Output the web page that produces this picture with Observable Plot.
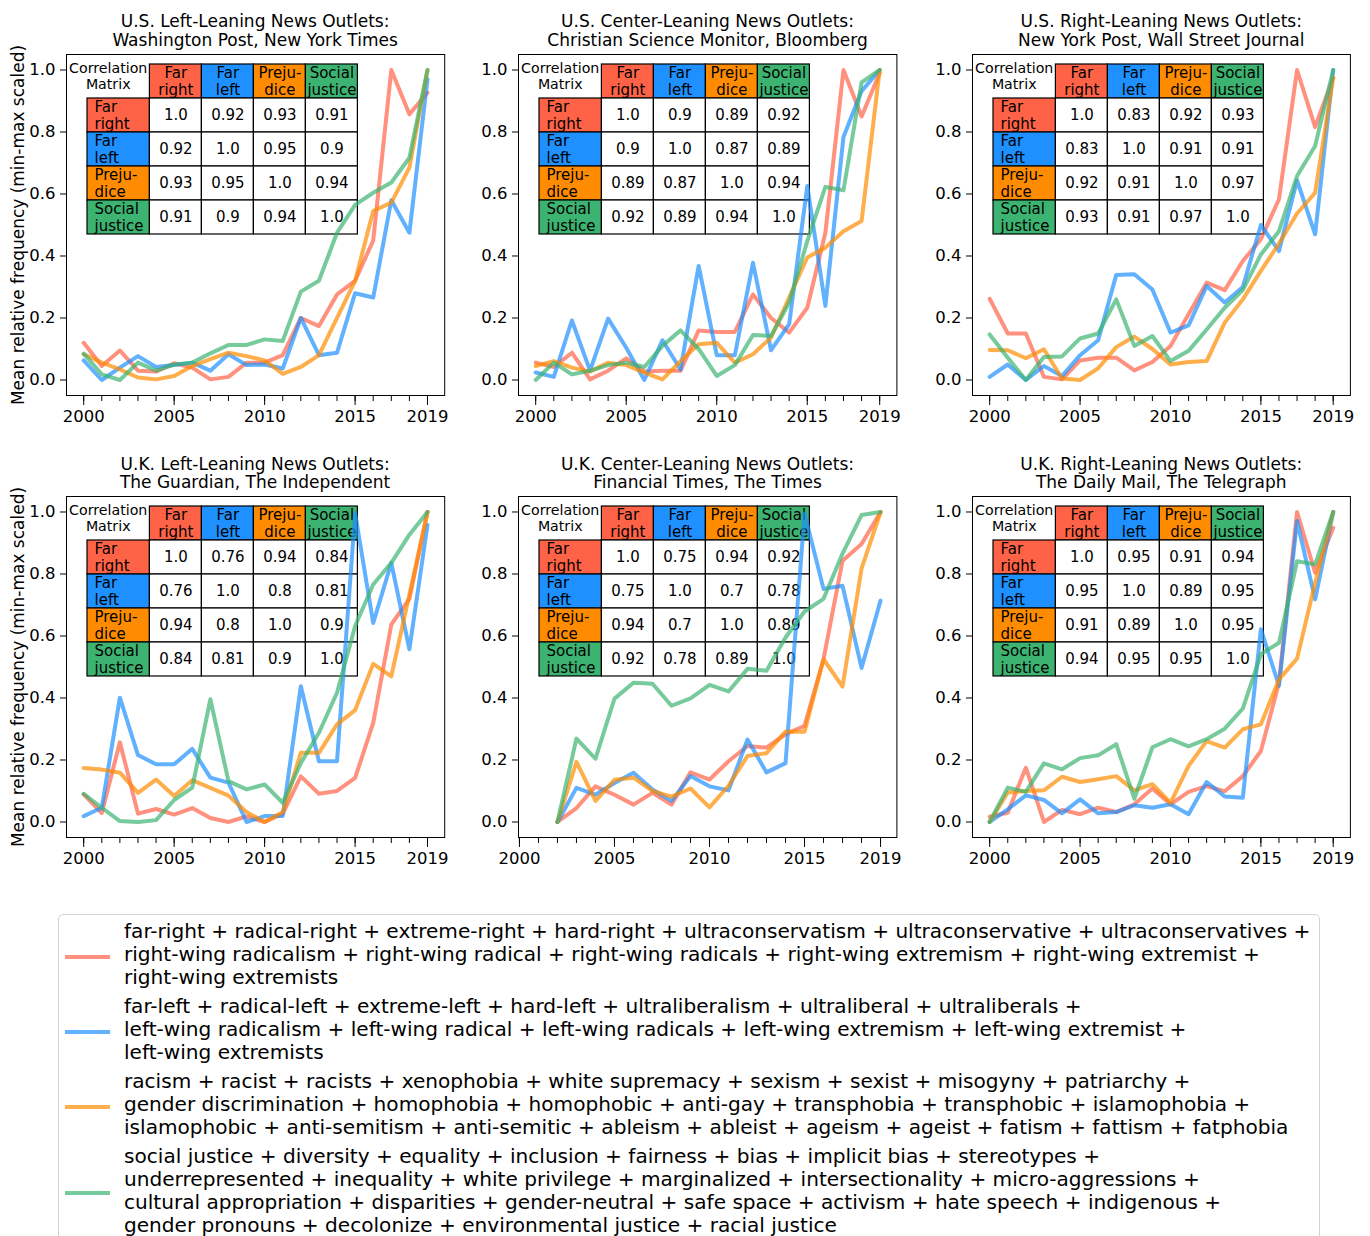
<!DOCTYPE html>
<html>
<head>
<meta charset="utf-8">
<script src="https://cdn.jsdelivr.net/npm/d3@7"></script>
<script src="https://cdn.jsdelivr.net/npm/@observablehq/plot@0.6"></script>
<style>
  html, body { margin: 0; padding: 0; background: #ffffff; }
  #root { position: relative; width: 1370px; height: 1236px; overflow: hidden; font-family: "DejaVu Sans", sans-serif; color: #000; background: #fff; }
  .title { position: absolute; text-align: center; font-size: 17px; line-height: 18.5px; white-space: pre; }
  .legend { position: absolute; left: 58px; top: 914px; width: 1262px; height: 360px; border: 1px solid #d3d3d3; border-radius: 5px; box-sizing: border-box; padding-top: 5px; }
  .entry { display: flex; align-items: center; margin-bottom: 6px; }
  .handle { width: 45px; height: 4px; margin-left: 6px; margin-right: 14px; transform: translateY(2px); }
  .etext { font-size: 20.1px; line-height: 23px; white-space: pre; }
</style>
</head>
<body>
<div id="root"></div>
<script>
// ---------------- data ----------------
const yearsFull = [2000, 2001, 2002, 2003, 2004, 2005, 2006, 2007, 2008, 2009, 2010, 2011, 2012, 2013, 2014, 2015, 2016, 2017, 2018, 2019];
const years2002 = [2002, 2003, 2004, 2005, 2006, 2007, 2008, 2009, 2010, 2011, 2012, 2013, 2014, 2015, 2016, 2017, 2018, 2019];
const majorYears = [2000, 2005, 2010, 2015, 2019];
const yTicks = [0, 0.2, 0.4, 0.6, 0.8, 1.0];
const seriesNames = ["Far right", "Far left", "Prejudice", "Social justice"];
const tableLabels = ["Far\nright", "Far\nleft", "Preju-\ndice", "Social\njustice"];
const seriesColors = ["#ff6347", "#1e90ff", "#ff8c00", "#3cb371"];
const cornerLabel = "Correlation\nMatrix";
const yLabel = "Mean relative frequency (min-max scaled)";
const panelTitles = [
  "U.S. Left-Leaning News Outlets:\nWashington Post, New York Times",
  "U.S. Center-Leaning News Outlets:\nChristian Science Monitor, Bloomberg",
  "U.S. Right-Leaning News Outlets:\nNew York Post, Wall Street Journal",
  "U.K. Left-Leaning News Outlets:\nThe Guardian, The Independent",
  "U.K. Center-Leaning News Outlets:\nFinancial Times, The Times",
  "U.K. Right-Leaning News Outlets:\nThe Daily Mail, The Telegraph"
];

// U.S. left-leaning
const usLeftFarRight  = [0.12, 0.045, 0.095, 0.03, 0.027, 0.054, 0.04, 0.002, 0.01, 0.056, 0.056, 0.08, 0.2, 0.174, 0.276, 0.32, 0.45, 1.0, 0.857, 0.927];
const usLeftFarLeft   = [0.063, 0.0, 0.04, 0.077, 0.042, 0.048, 0.056, 0.03, 0.083, 0.048, 0.05, 0.037, 0.2, 0.08, 0.088, 0.28, 0.266, 0.58, 0.475, 0.97];
const usLeftPrejudice = [0.083, 0.056, 0.034, 0.008, 0.002, 0.013, 0.045, 0.067, 0.088, 0.077, 0.063, 0.02, 0.042, 0.08, 0.2, 0.32, 0.545, 0.572, 0.685, 1.0];
const usLeftSocial    = [0.085, 0.018, 0.0, 0.056, 0.03, 0.05, 0.056, 0.086, 0.113, 0.113, 0.131, 0.126, 0.285, 0.32, 0.475, 0.565, 0.604, 0.637, 0.717, 1.0];
// U.S. center-leaning
const usCenterFarRight  = [0.056, 0.042, 0.088, 0.002, 0.03, 0.07, 0.027, 0.03, 0.03, 0.16, 0.155, 0.155, 0.276, 0.2, 0.153, 0.233, 0.475, 1.0, 0.85, 0.99];
const usCenterFarLeft   = [0.024, 0.01, 0.192, 0.03, 0.198, 0.104, 0.0, 0.128, 0.034, 0.368, 0.08, 0.08, 0.378, 0.096, 0.18, 0.626, 0.239, 0.784, 0.932, 1.0];
const usCenterPrejudice = [0.045, 0.061, 0.04, 0.027, 0.056, 0.048, 0.024, 0.002, 0.061, 0.115, 0.12, 0.056, 0.083, 0.137, 0.266, 0.395, 0.427, 0.48, 0.513, 1.0];
const usCenterSocial    = [0.0, 0.056, 0.018, 0.03, 0.048, 0.056, 0.042, 0.11, 0.16, 0.1, 0.013, 0.048, 0.145, 0.142, 0.25, 0.448, 0.623, 0.612, 0.96, 1.0];
// U.S. right-leaning
const usRightFarRight  = [0.262, 0.15, 0.15, 0.01, 0.002, 0.063, 0.072, 0.072, 0.031, 0.058, 0.11, 0.212, 0.314, 0.29, 0.384, 0.454, 0.583, 1.0, 0.816, 0.975];
const usRightFarLeft   = [0.01, 0.05, 0.0, 0.045, 0.013, 0.08, 0.128, 0.339, 0.341, 0.292, 0.153, 0.176, 0.303, 0.25, 0.3, 0.5, 0.416, 0.644, 0.47, 1.0];
const usRightPrejudice = [0.097, 0.096, 0.07, 0.099, 0.005, 0.0, 0.038, 0.106, 0.14, 0.1, 0.05, 0.058, 0.061, 0.185, 0.26, 0.352, 0.44, 0.537, 0.604, 0.975];
const usRightSocial    = [0.147, 0.072, 0.0, 0.074, 0.076, 0.134, 0.15, 0.26, 0.11, 0.142, 0.061, 0.094, 0.163, 0.233, 0.29, 0.405, 0.48, 0.658, 0.755, 1.0];
// U.K. left-leaning
const ukLeftFarRight  = [0.089, 0.029, 0.257, 0.027, 0.042, 0.024, 0.045, 0.013, 0.0, 0.018, 0.0, 0.027, 0.147, 0.091, 0.1, 0.142, 0.32, 0.637, 0.72, 1.0];
const ukLeftFarLeft   = [0.019, 0.046, 0.401, 0.216, 0.186, 0.186, 0.236, 0.143, 0.127, 0.0, 0.019, 0.019, 0.438, 0.196, 0.196, 0.996, 0.642, 0.836, 0.557, 0.958];
const ukLeftPrejudice = [0.174, 0.169, 0.159, 0.094, 0.137, 0.084, 0.135, 0.11, 0.085, 0.032, 0.0, 0.032, 0.223, 0.223, 0.315, 0.361, 0.51, 0.47, 0.734, 1.0];
const ukLeftSocial    = [0.091, 0.046, 0.003, 0.0, 0.006, 0.071, 0.111, 0.396, 0.132, 0.105, 0.121, 0.062, 0.19, 0.288, 0.417, 0.632, 0.766, 0.836, 0.927, 1.0];
// U.K. center-leaning (from 2002)
const ukCenterFarRight  = [0.0, 0.045, 0.115, 0.088, 0.056, 0.094, 0.056, 0.16, 0.137, 0.196, 0.245, 0.24, 0.283, 0.31, 0.525, 0.843, 0.897, 1.0];
const ukCenterFarLeft   = [0.0, 0.11, 0.088, 0.126, 0.159, 0.105, 0.068, 0.148, 0.115, 0.102, 0.266, 0.16, 0.19, 0.995, 0.752, 0.762, 0.497, 0.714];
const ukCenterPrejudice = [0.0, 0.194, 0.068, 0.136, 0.143, 0.1, 0.082, 0.108, 0.047, 0.117, 0.213, 0.222, 0.292, 0.291, 0.525, 0.437, 0.817, 1.0];
const ukCenterSocial    = [0.0, 0.269, 0.204, 0.398, 0.449, 0.446, 0.375, 0.399, 0.442, 0.421, 0.494, 0.488, 0.595, 0.679, 0.72, 0.866, 0.99, 1.0];
// U.K. right-leaning
const ukRightFarRight  = [0.017, 0.03, 0.175, 0.0, 0.039, 0.025, 0.046, 0.032, 0.057, 0.108, 0.057, 0.097, 0.116, 0.099, 0.148, 0.229, 0.449, 1.0, 0.804, 0.949];
const ukRightFarLeft   = [0.0, 0.041, 0.086, 0.071, 0.028, 0.073, 0.028, 0.032, 0.054, 0.046, 0.057, 0.025, 0.129, 0.082, 0.078, 0.622, 0.439, 0.971, 0.718, 1.0];
const ukRightPrejudice = [0.0, 0.095, 0.1, 0.102, 0.146, 0.129, 0.138, 0.148, 0.102, 0.122, 0.062, 0.181, 0.261, 0.24, 0.299, 0.315, 0.46, 0.527, 0.772, 1.0];
const ukRightSocial    = [0.0, 0.111, 0.097, 0.189, 0.17, 0.206, 0.215, 0.251, 0.075, 0.241, 0.267, 0.244, 0.267, 0.301, 0.366, 0.541, 0.578, 0.841, 0.831, 1.0];

// correlation matrices
const corrUsLeft   = [[1.0, 0.92, 0.93, 0.91], [0.92, 1.0, 0.95, 0.9], [0.93, 0.95, 1.0, 0.94], [0.91, 0.9, 0.94, 1.0]];
const corrUsCenter = [[1.0, 0.9, 0.89, 0.92], [0.9, 1.0, 0.87, 0.89], [0.89, 0.87, 1.0, 0.94], [0.92, 0.89, 0.94, 1.0]];
const corrUsRight  = [[1.0, 0.83, 0.92, 0.93], [0.83, 1.0, 0.91, 0.91], [0.92, 0.91, 1.0, 0.97], [0.93, 0.91, 0.97, 1.0]];
const corrUkLeft   = [[1.0, 0.76, 0.94, 0.84], [0.76, 1.0, 0.8, 0.81], [0.94, 0.8, 1.0, 0.9], [0.84, 0.81, 0.9, 1.0]];
const corrUkCenter = [[1.0, 0.75, 0.94, 0.92], [0.75, 1.0, 0.7, 0.78], [0.94, 0.7, 1.0, 0.89], [0.92, 0.78, 0.89, 1.0]];
const corrUkRight  = [[1.0, 0.95, 0.91, 0.94], [0.95, 1.0, 0.89, 0.95], [0.91, 0.89, 1.0, 0.95], [0.94, 0.95, 0.95, 1.0]];

const legendTexts = [
  "far-right + radical-right + extreme-right + hard-right + ultraconservatism + ultraconservative + ultraconservatives +\nright-wing radicalism + right-wing radical + right-wing radicals + right-wing extremism + right-wing extremist +\nright-wing extremists",
  "far-left + radical-left + extreme-left + hard-left + ultraliberalism + ultraliberal + ultraliberals +\nleft-wing radicalism + left-wing radical + left-wing radicals + left-wing extremism + left-wing extremist +\nleft-wing extremists",
  "racism + racist + racists + xenophobia + white supremacy + sexism + sexist + misogyny + patriarchy +\ngender discrimination + homophobia + homophobic + anti-gay + transphobia + transphobic + islamophobia +\nislamophobic + anti-semitism + anti-semitic + ableism + ableist + ageism + ageist + fatism + fattism + fatphobia",
  "social justice + diversity + equality + inclusion + fairness + bias + implicit bias + stereotypes +\nunderrepresented + inequality + white privilege + marginalized + intersectionality + micro-aggressions +\ncultural appropriation + disparities + gender-neutral + safe space + activism + hate speech + indigenous +\ngender pronouns + decolonize + environmental justice + racial justice"
];

// ---------------- panels ----------------
const panels = [
  {years: yearsFull, series: [usLeftFarRight, usLeftFarLeft, usLeftPrejudice, usLeftSocial], corr: corrUsLeft, xDomain: [1999.05, 2019.95]},
  {years: yearsFull, series: [usCenterFarRight, usCenterFarLeft, usCenterPrejudice, usCenterSocial], corr: corrUsCenter, xDomain: [1999.05, 2019.95]},
  {years: yearsFull, series: [usRightFarRight, usRightFarLeft, usRightPrejudice, usRightSocial], corr: corrUsRight, xDomain: [1999.05, 2019.95]},
  {years: yearsFull, series: [ukLeftFarRight, ukLeftFarLeft, ukLeftPrejudice, ukLeftSocial], corr: corrUkLeft, xDomain: [1999.05, 2019.95]},
  {years: years2002, series: [ukCenterFarRight, ukCenterFarLeft, ukCenterPrejudice, ukCenterSocial], corr: corrUkCenter, xDomain: [1999.95, 2019.86]},
  {years: yearsFull, series: [ukRightFarRight, ukRightFarLeft, ukRightPrejudice, ukRightSocial], corr: corrUkRight, xDomain: [1999.05, 2019.95]}
];

// layout (px)
const colLeft = [66, 518.3, 972.3];
const colRight = [444.2, 896.7, 1350.2];
const rowTop = [53.5, 495.8];
const frameH = 341;
const FONT = "DejaVu Sans";

const root = document.getElementById("root");

function fmt(v) { return Number.isInteger(v) ? v.toFixed(1) : String(v); }

function linePlot(p, fw, fh, showY) {
  const ML = 62, MT = 12, MR = 12, MB = 44;
  const marks = [
    Plot.axisX({ticks: yearsFull, tickSize: 6, fill: "none", label: null}),
    Plot.axisX({ticks: majorYears, tickSize: 10, tickPadding: 5, tickFormat: d => String(d), label: null, fontSize: 16.5}),
    Plot.axisY({ticks: yTicks, tickSize: 6, tickPadding: 5, tickFormat: d => d.toFixed(1), label: null, fontSize: 16.5}),
    Plot.frame({stroke: "black", strokeWidth: 1})
  ];
  p.series.forEach((vals, k) => {
    const data = p.years.map((yr, i) => ({year: yr, value: vals[i]}));
    marks.push(Plot.line(data, {x: "year", y: "value", stroke: seriesColors[k], strokeOpacity: 0.7, strokeWidth: 4}));
  });
  if (showY) {
    marks.push(Plot.text([yLabel], {text: d => d, frameAnchor: "left", textAnchor: "middle", rotate: -90, dx: -47.5, fontSize: 17}));
  }
  const svg = Plot.plot({
    width: ML + fw + MR, height: MT + fh + MB,
    marginLeft: ML, marginTop: MT, marginRight: MR, marginBottom: MB,
    style: {background: "transparent", fontFamily: FONT, fontSize: "16.5px", color: "black", overflow: "visible"},
    x: {domain: p.xDomain, label: null},
    y: {domain: [-0.05, 1.05], label: null},
    marks
  });
  svg.style.position = "absolute";
  svg.style.left = "0px";
  svg.style.top = "0px";
  return {svg, ML, MT};
}

function tablePlot(corr) {
  const CW = 52, RH = 34, LW = 1.2, PADU = 21 / 52, M = 2;
  const w = (PADU + LW + 4) * CW;
  const headers = seriesNames.map((n, j) => ({x1: LW + j, x2: LW + j + 1, y1: 0, y2: 1, fill: seriesColors[j], label: tableLabels[j]}));
  const rowHeads = seriesNames.map((n, i) => ({x1: 0, x2: LW, y1: i + 1, y2: i + 2, fill: seriesColors[i], label: tableLabels[i]}));
  const cells = corr.flatMap((row, i) => row.map((v, j) => ({x1: LW + j, x2: LW + j + 1, y1: i + 1, y2: i + 2, fill: "white", label: fmt(v)})));
  const midX = d => (d.x1 + d.x2) / 2;
  const midY = d => (d.y1 + d.y2) / 2;
  const svg = Plot.plot({
    width: w + M, height: 5 * RH + 2 * M,
    marginLeft: 0, marginRight: M, marginTop: M, marginBottom: M,
    style: {background: "transparent", fontFamily: FONT, color: "black", overflow: "visible"},
    x: {domain: [-PADU, LW + 4], axis: null},
    y: {domain: [5, 0], axis: null},
    color: {type: "identity"},
    marks: [
      Plot.rect([...headers, ...rowHeads, ...cells], {x1: "x1", x2: "x2", y1: "y1", y2: "y2", fill: "fill", stroke: "black", strokeWidth: 1.2}),
      Plot.text(headers, {x: midX, y: midY, text: "label", fontSize: 15, lineHeight: 1.13}),
      Plot.text(rowHeads, {x: "x1", y: midY, dx: 7, textAnchor: "start", text: "label", fontSize: 15, lineHeight: 1.13}),
      Plot.text(cells, {x: midX, y: midY, text: "label", fontSize: 15}),
      Plot.text([cornerLabel], {x: () => (LW - PADU) / 2, y: () => 0.5, dy: -6, text: d => d, fontSize: 14.2, lineHeight: 1.15})
    ]
  });
  svg.style.position = "absolute";
  return {svg, M};
}

panels.forEach((p, idx) => {
  const r = Math.floor(idx / 3), c = idx % 3;
  const fl = colLeft[c], fr = colRight[c], ft = rowTop[r];
  const fw = fr - fl;

  // correlation table (under the lines)
  const t = tablePlot(p.corr);
  t.svg.style.left = fl + "px";
  t.svg.style.top = (ft + 10.3 - t.M) + "px";
  root.appendChild(t.svg);

  // lines + axes
  const lp = linePlot(p, fw, frameH, c === 0);
  lp.svg.style.left = (fl - lp.ML) + "px";
  lp.svg.style.top = (ft - lp.MT) + "px";
  root.appendChild(lp.svg);

  // title
  const tt = document.createElement("div");
  tt.className = "title";
  tt.style.left = fl + "px";
  tt.style.width = fw + "px";
  tt.style.top = (ft - 41.3) + "px";
  tt.textContent = panelTitles[idx];
  root.appendChild(tt);
});

// legend
const legend = document.createElement("div");
legend.className = "legend";
legendTexts.forEach((txt, k) => {
  const e = document.createElement("div");
  e.className = "entry";
  const h = document.createElement("div");
  h.className = "handle";
  h.style.background = seriesColors[k];
  h.style.opacity = 0.7;
  const tx = document.createElement("div");
  tx.className = "etext";
  tx.textContent = txt;
  e.appendChild(h);
  e.appendChild(tx);
  legend.appendChild(e);
});
root.appendChild(legend);
</script>
</body>
</html>
